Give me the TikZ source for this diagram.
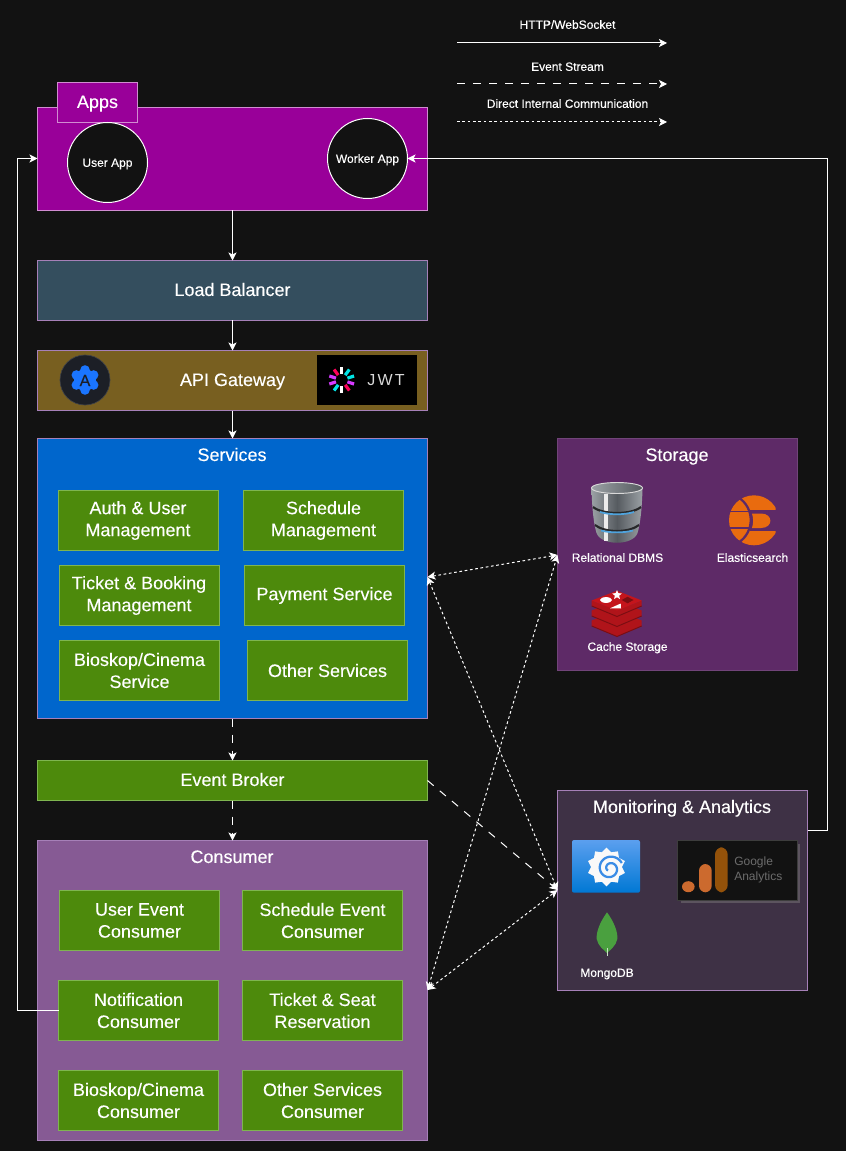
\documentclass[tikz,border=0pt]{standalone}
\usepackage{fontspec}
\setmainfont[FakeBold=0.18]{Liberation Sans}
\usetikzlibrary{arrows.meta,calc,shapes.geometric}
\definecolor{bgc}{HTML}{121212}
\definecolor{appsc}{HTML}{990099}
\definecolor{lbc}{HTML}{344E5E}
\definecolor{gwc}{HTML}{785F20}
\definecolor{svc}{HTML}{0066CC}
\definecolor{grn}{HTML}{4D8A0C}
\definecolor{csc}{HTML}{865A94}
\definecolor{stc}{HTML}{5E2A67}
\definecolor{mnc}{HTML}{3E3145}
\definecolor{edge}{HTML}{A680B8}
\definecolor{gedge}{HTML}{7FB550}
\definecolor{elastic}{HTML}{E96B0E}
\definecolor{redisa}{HTML}{C4151C}
\definecolor{redisb}{HTML}{B0141A}
\definecolor{redisc}{HTML}{7A0E12}
\definecolor{gauge}{HTML}{CC6A2E}
\definecolor{gaugeb}{HTML}{94520A}
\definecolor{ngblue}{HTML}{1A75FF}
\definecolor{ngdark}{HTML}{1C1F26}
\definecolor{dbl}{HTML}{9BA1A5}
\definecolor{dbm}{HTML}{565B60}
\definecolor{dbband}{HTML}{4FA3DC}
\definecolor{gfa}{HTML}{5B9FEF}
\definecolor{gfb}{HTML}{0078D4}
\definecolor{gfc}{HTML}{3A8CE6}
\definecolor{leaf}{HTML}{4AA03F}
\definecolor{jpink}{HTML}{FB015B}
\definecolor{jviolet}{HTML}{D63AFF}
\definecolor{jcyan}{HTML}{00E5E6}
\tikzset{
 x=0.75pt,y=-0.75pt,
 every node/.append style={outer sep=0pt},
 txt/.style={text=white,font=\fontsize{13.5pt}{15.5pt}\selectfont,align=center,inner sep=0pt,text height=9.7pt,text depth=0pt},
 small/.style={text=white,font=\fontsize{9pt}{11pt}\selectfont\addfontfeature{FakeBold=0.35},align=center,inner sep=0pt,text height=6.5pt,text depth=0pt},
 panel/.style={draw=edge,line width=0.75pt,anchor=north west,inner sep=0pt,text=white,font=\fontsize{13.5pt}{15pt}\selectfont,text height=9.7pt,text depth=1.5pt},
 svcbox/.style={draw=gedge,fill=grn,line width=0.6pt,inner sep=0pt,text=white,align=center,font=\fontsize{13.5pt}{16.5pt}\selectfont,minimum width=120pt,minimum height=45pt},
 circ/.style={circle,draw=white,fill=bgc,line width=0.75pt,minimum size=60pt,inner sep=0pt,text=white,font=\fontsize{9pt}{11pt}\selectfont\addfontfeature{FakeBold=0.35},text height=6.5pt,text depth=0pt},
 conn/.style={draw=white,line width=0.75pt,-{Stealth[length=6pt,width=6pt,inset=1.5pt]}},
 bidir/.style={draw=white,line width=0.75pt,{Stealth[length=6pt,width=6pt,inset=1.5pt]}-{Stealth[length=6pt,width=6pt,inset=1.5pt]}},
 dsh/.style={dash pattern=on 6pt off 6pt},
 dot/.style={dash pattern=on 2pt off 2pt},
}
\begin{document}
\begin{tikzpicture}
\path[use as bounding box,fill=bgc] (0,0) rectangle (846,1151);
% legend
\coordinate (l1a) at (457,43); \coordinate (l1b) at (667,43);
\coordinate (l2a) at (457,84); \coordinate (l2b) at (667,84);
\coordinate (l3a) at (457,122); \coordinate (l3b) at (667,122);
\draw[conn] (l1a) -- (l1b);
\draw[conn,dsh] (l2a) -- (l2b);
\draw[conn,dot] (l3a) -- (l3b);
\node[small] (t1) at (567.5,24.5) {HTTP/WebSocket};
\node[small] (t2) at (567.5,66.5) {Event Stream};
\node[small] (t3) at (567.5,103.5) {Direct Internal Communication};
% apps
\node[panel,fill=appsc,minimum width=292.5pt,minimum height=77pt,draw=white!55!appsc] (apps) at (37.5,107.5) {};
\node[panel,fill=appsc,minimum width=60pt,minimum height=30pt,draw=white!55!appsc] (appst) at (57.5,82.5) {Apps};
\node[circ] (user) at (107.5,162.5) {User App};
\node[circ] (worker) at (367.5,158.5) {Worker App};
% lb
\node[panel,fill=lbc,minimum width=292.5pt,minimum height=45pt] (lb) at (37.5,260.5) {Load Balancer};
% gw
\node[panel,fill=gwc,minimum width=292.5pt,minimum height=45pt] (gw) at (37.5,350.5) {API Gateway};
\fill[ngdark,draw=white!15!ngdark,line width=0.5pt] (85,380) circle[radius=25];
\foreach \a in {30,90,...,330}{\fill[ngblue] ($(85,380)+(\a:10)$) circle[radius=4.8];}
\fill[ngblue] (85,380) circle[radius=11];
\node[text=ngdark,font=\fontsize{12pt}{12pt}\selectfont,inner sep=0pt] (ngxa) at (85,380.5) {A};
\node[fill=black,minimum width=75pt,minimum height=37.5pt,inner sep=0pt] (jwt) at (367,380) {};
\foreach \a/\c in {90/white,54/jpink,18/jviolet,-18/jcyan,-54/jcyan,-90/white,-126/jpink,-162/jviolet,162/jviolet,126/jcyan}{
  \draw[\c,line width=2.4pt] ($(341.7,380)+(\a:6)$) -- ($(341.7,380)+(\a:13)$);}
\node[text=white!85!black,font=\fontsize{12pt}{12pt}\selectfont\addfontfeature{LetterSpace=14,FakeBold=0},inner sep=0pt] (jwtt) at (386,380.5) {JWT};
% services
\node[panel,fill=svc,minimum width=292.5pt,minimum height=210pt] (svc) at (37.5,438.5) {};
\node[txt] (svct) at (232,454.5) {Services};
\node[svcbox] (s1) at (138,520.5) {Auth \& User\\Management};
\node[svcbox] (s2) at (323.5,520.5) {Schedule\\Management};
\node[svcbox] (s3) at (139,595.5) {Ticket \& Booking\\Management};
\node[svcbox] (s4) at (324.5,595.5) {Payment Service};
\node[svcbox] (s5) at (139.5,670.5) {Bioskop/Cinema\\Service};
\node[svcbox] (s6) at (327.5,670.5) {Other Services};
% broker
\node[panel,fill=grn,minimum width=292.5pt,minimum height=30pt,draw=gedge] (eb) at (37.5,760.5) {Event Broker};
% consumer
\node[panel,fill=csc,minimum width=292.5pt,minimum height=225pt] (cs) at (37.5,840.5) {};
\node[txt] (cst) at (232,856.5) {Consumer};
\node[svcbox] (c1) at (139.5,920.5) {User Event\\Consumer};
\node[svcbox] (c2) at (322.5,920.5) {Schedule Event\\Consumer};
\node[svcbox] (c3) at (138.5,1010.5) {Notification\\Consumer};
\node[svcbox] (c4) at (322.5,1010.5) {Ticket \& Seat\\Reservation};
\node[svcbox] (c5) at (138.5,1100.5) {Bioskop/Cinema\\Consumer};
\node[svcbox] (c6) at (322.5,1100.5) {Other Services\\Consumer};
% storage
\node[panel,fill=stc,minimum width=180pt,minimum height=174pt,draw=white!12!stc] (st) at (557.5,438.5) {};
\node[txt] (stt) at (677,454.5) {Storage};
% db icon
\shade[left color=dbl,right color=dbl,middle color=dbm] (591.5,488) .. controls (592,510) and (594,525) .. (596.5,533) .. controls (601,546) and (633,546) .. (637.5,533) .. controls (640,525) and (642,510) .. (642.5,488) -- cycle;
\shade[left color=dbl,right color=dbm,draw=white!70!gray,line width=0.7pt] (617,488) ellipse[x radius=25.5,y radius=5.5];
\fill[white!85!gray] (604,494) rectangle (608,541);
\draw[bgc!70!dbm,line width=1.6pt] (593,507) .. controls (603,515) and (631,515) .. (641,507);
\draw[dbband,line width=1.3pt] (600,512) .. controls (610,515) and (624,515) .. (634,512);
\draw[bgc!70!dbm,line width=1.6pt] (595,525) .. controls (605,533) and (629,533) .. (639,525);
\draw[dbband,line width=1.3pt] (601,530.5) .. controls (610,533) and (624,533) .. (633,530.5);
\node[small] (db) at (617.5,557.5) {Relational DBMS};
% elastic icon
\begin{scope}
\clip (720,490) rectangle (775.5,550);
\fill[elastic] (754,520.3) circle[radius=25];
\end{scope}
\fill[stc] (750,510) rectangle (780,530.7);
\draw[stc,line width=1.7pt] (738,497) .. controls (755,508) and (755,532) .. (738,543);
\draw[stc,line width=0.9pt] (725,511.7) -- (750,511.7);
\draw[stc,line width=0.9pt] (725,528) -- (750,528);
\fill[elastic] (752,513.5) -- (761,513.5) .. controls (773.5,513.5) and (773.5,528) .. (761,528) -- (752,528) .. controls (753.5,523) and (753.5,518.5) .. (752,513.5) -- cycle;
\node[small] (es) at (752.5,557.5) {Elasticsearch};
% redis icon
\foreach \dy in {20,10}{
 \fill[redisb] (591.7,600.5+\dy) -- (617,590.7+\dy) -- (641.7,600.5+\dy) -- (641.7,606+\dy) -- (617,616.5+\dy) -- (591.7,606+\dy) -- cycle;
 \draw[redisc,line width=0.7pt] (591.7,606+\dy) -- (617,616.5+\dy) -- (641.7,606+\dy);}
\fill[redisb] (591.7,600.5) -- (617,610.5) -- (641.7,600.5) -- (641.7,606) -- (617,616.5) -- (591.7,606) -- cycle;
\draw[redisc,line width=0.7pt] (591.7,606) -- (617,616.5) -- (641.7,606);
\fill[redisa] (617,590.7) -- (641.7,600.5) -- (617,610.5) -- (591.7,600.5) -- cycle;
\fill[redisc] (621.7,600) -- (627.5,596.8) -- (633.5,600) -- (627.5,603.3) -- cycle;
\fill[white] (606,600) ellipse[x radius=6,y radius=2.9];
\fill[white] (610,608.3) -- (620.7,603.5) -- (621,608.5) -- cycle;
\node[star,star points=5,star point ratio=2.2,fill=white,minimum size=7.5pt,inner sep=0pt] (rstar) at (617,595) {};
\node[small] (cache) at (627.5,646.5) {Cache Storage};
% monitoring
\node[panel,fill=mnc,minimum width=187.5pt,minimum height=150pt] (mn) at (557.5,790.5) {};
\node[txt] (mnt) at (682,806.5) {Monitoring \& Analytics};
% grafana
\shade[top color=gfa,bottom color=gfb,rounded corners=1.5pt] (572,840) rectangle (640,892.7);
\node[star,star points=10,star point ratio=1.25,fill=white!95!gray,minimum size=29pt,inner sep=0pt] (graf) at (606.5,867) {};
\draw[gfc,line width=1.7pt,domain=0:560,samples=70,smooth] plot ({610+(13-\x/55)*cos(-25-\x)},{868.5+(13-\x/55)*sin(-25-\x)});
% GA
\fill[gray!45!mnc] (680.5,844) rectangle (800,903);
\node[fill=bgc,draw=white!18!bgc,line width=0.5pt,minimum width=90pt,minimum height=45pt,inner sep=0pt] (ga) at (737.7,870.7) {};
\fill[gauge] (688.3,886.7) ellipse[x radius=6.3,y radius=5.5];
\fill[gauge,rounded corners=5pt] (699,864) rectangle (711.7,892.3);
\fill[gaugeb,rounded corners=5.5pt] (715,847.3) rectangle (727.7,892.3);
\node[font=\fontsize{9pt}{11.25pt}\selectfont\addfontfeature{FakeBold=0},text=white!38!bgc,align=left,inner sep=0pt,anchor=west] (gat) at (734.3,870) {Google\\Analytics};
% mongo
\fill[leaf] (607,912.3) .. controls (614,922) and (618,932) .. (617.3,939) .. controls (616,946) and (610,950) .. (607,953) .. controls (604,950) and (598,946) .. (596.7,939) .. controls (596,932) and (600,922) .. (607,912.3) -- cycle;
\draw[white!70!leaf,line width=0.6pt] (607,948) -- (607,956);
\node[small] (mongo) at (607,972.5) {MongoDB};
% connectors
\draw[conn] (apps) -- (lb);
\draw[conn] (lb) -- (gw);
\draw[conn] (gw) -- (svc);
\draw[conn,dsh] (svc) -- (eb);
\draw[conn,dsh] (eb) -- (cs);
\coordinate (mnr) at (807.5,830);
\coordinate (c1r) at (827.5,830);
\coordinate (c1t) at (827.5,158.5);
\draw[conn] (mnr) -- (c1r) -- (c1t) -- (worker.east);
\coordinate (cl) at (17.5,1010.5);
\coordinate (clt) at (17.5,158.5);
\coordinate (appsl) at (37.5,158.5);
\draw[conn] (c3.west) -- (cl) -- (clt) -- (appsl);
\coordinate (svcr) at (427.5,577);
\coordinate (str) at (557.5,555);
\coordinate (mnl) at (557.5,890);
\coordinate (csr) at (427.5,990);
\coordinate (ebr) at (427.5,780.5);
\draw[bidir,dot] (svcr) -- (str);
\draw[bidir,dot] (svcr) -- (mnl);
\draw[bidir,dot] (csr) -- (str);
\draw[bidir,dot] (csr) -- (mnl);
\draw[conn,dsh] (ebr) -- (mnl);
\end{tikzpicture}
\end{document}
